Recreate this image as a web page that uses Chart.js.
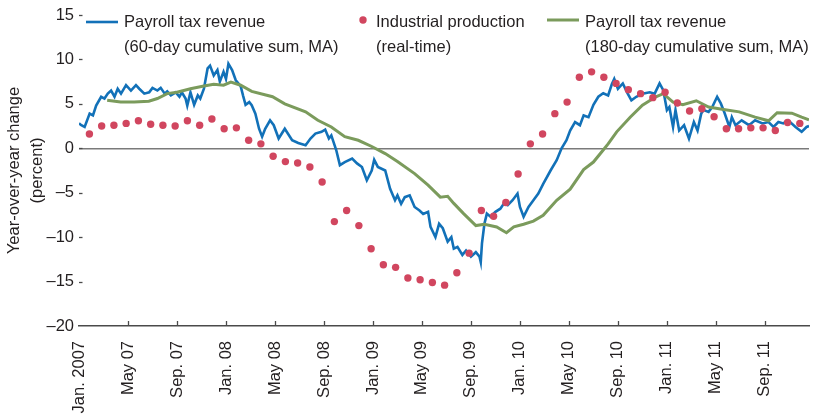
<!DOCTYPE html>
<html>
<head>
<meta charset="utf-8">
<script src="https://cdn.jsdelivr.net/npm/chart.js@4.4.1/dist/chart.umd.min.js"></script>
<style>
html,body{margin:0;padding:0;background:#fff;}
canvas{display:block;}
</style>
</head>
<body>
<canvas id="c" width="813" height="419"></canvas>
<script>
// ---------- DATA (x = months since 1 Jan 2007) ----------
const xTickMonths = [0, 4, 8, 12, 16, 20, 24, 28, 32, 36, 40, 44, 48, 52, 56];
const xTickLabels = ["Jan. 2007", "May 07", "Sep. 07", "Jan. 08", "May 08", "Sep. 08", "Jan. 09",
  "May 09", "Sep. 09", "Jan. 10", "May 10", "Sep. 10", "Jan. 11", "May 11", "Sep. 11"];
const yTickValues = [-20, -15, -10, -5, 0, 5, 10, 15];

const seriesNames = [
  ["Payroll tax revenue", "(60-day cumulative sum, MA)"],
  ["Industrial production", "(real-time)"],
  ["Payroll tax revenue", "(180-day cumulative sum, MA)"]
];

// Payroll tax revenue, 60-day cumulative sum, moving average (y/y %)
const payroll60Months = [0.0,0.19,0.46,0.87,1.14,1.4,1.81,2.08,2.35,2.62,2.9,3.16,3.43,3.84,4.24,4.65,4.92,5.33,5.73,6.0,
  6.4,6.67,7.0,7.2,7.5,7.9,8.2,8.4,8.7,8.84,9.1,9.4,9.7,9.9,10.2,10.5,10.7,11.0,11.3,11.5,
  11.8,12.0,12.2,12.5,12.8,13.2,13.4,13.6,13.9,14.1,14.4,14.7,14.95,15.2,15.6,15.9,16.3,16.8,17.4,17.9,
  18.5,18.9,19.3,19.8,20.1,20.4,20.6,21.0,21.3,21.7,22.3,22.7,23.1,23.5,23.9,24.1,24.4,25.0,25.4,25.8,
  26.0,26.3,26.6,27.0,27.4,27.8,28.1,28.5,28.7,29.1,29.4,29.7,30.1,30.4,30.6,30.9,31.3,31.6,32.0,32.4,
  32.7,32.8,32.9,33.1,33.3,33.6,34.0,34.4,34.7,35.0,35.4,35.8,36.0,36.3,36.7,37.1,37.5,37.9,38.5,39.0,
  39.4,39.8,40.1,40.5,40.9,41.2,41.6,42.0,42.4,42.8,43.2,43.5,43.7,44.0,44.4,44.8,45.1,45.5,46.0,46.6,
  47.0,47.4,47.7,48.0,48.2,48.5,48.7,49.0,49.4,49.8,50.2,50.5,50.8,51.0,51.4,51.7,52.1,52.4,52.7,53.1,
  53.3,53.6,54.1,54.7,55.2,55.8,56.3,56.7,57.1,57.5,57.9,58.5,59.0,59.4,59.6];
const payroll60Values = [2.8,2.6,2.4,3.9,3.7,4.8,5.8,5.6,6.15,6.5,5.8,6.7,6.15,7.1,6.5,7.1,6.7,6.15,6.3,6.8,
  6.5,6.8,6.15,6.4,5.95,6.3,5.8,6.3,5.6,4.8,6.3,4.9,5.95,5.6,6.7,9.0,9.3,8.2,8.8,7.5,
  8.6,7.8,9.5,8.8,7.65,7.0,5.9,4.9,5.2,4.85,3.9,2.2,1.3,2.2,3.15,2.6,1.1,2.2,0.9,0.6,
  0.35,1.1,1.65,1.85,2.1,1.1,1.45,-0.2,-1.9,-1.55,-1.15,-1.7,-2.1,-3.6,-2.5,-1.3,-2.1,-2.5,-4.55,-5.85,
  -5.3,-6.25,-5.5,-5.3,-6.6,-7.0,-7.4,-7.15,-8.85,-10.0,-8.5,-9.0,-10.5,-10.0,-11.3,-11.1,-12.0,-11.5,-12.2,-11.7,
  -12.2,-12.8,-10.7,-8.5,-7.35,-7.7,-7.15,-6.8,-6.2,-6.4,-5.85,-5.1,-6.6,-7.7,-6.6,-5.85,-5.1,-4.0,-2.5,-1.35,
  0.0,0.9,2.0,2.95,2.6,3.7,3.5,4.9,5.8,6.2,5.95,7.2,7.8,6.7,7.3,6.15,5.4,5.8,6.15,6.3,
  6.15,7.3,6.55,4.3,4.65,2.4,4.3,2.0,2.6,1.1,2.95,2.0,3.9,4.3,4.1,4.65,5.8,5.05,4.0,2.4,
  3.5,2.6,3.15,2.6,3.15,2.8,2.95,2.4,2.95,2.8,3.15,2.4,1.85,2.4,2.5];

// Industrial production (real-time), monthly y/y %, Jan 2007 - Nov 2011
const ipStartMonth = 0;
const ipValues = [1.6,2.5,2.6,2.8,3.1,2.7,2.6,2.5,3.1,2.6,3.3,2.2,
  2.3,0.9,0.5,-0.9,-1.5,-1.65,-2.1,-3.8,-8.25,-7.0,-8.7,-11.3,
  -13.1,-13.4,-14.6,-14.8,-15.1,-15.4,-14.0,-11.8,-7.0,-7.65,-6.1,-2.9,
  0.5,1.6,3.9,5.2,8.0,8.6,8.0,7.3,6.6,6.15,5.7,6.3,
  5.1,4.2,4.45,3.55,2.2,2.2,2.3,2.3,2.0,2.9,2.8];

// Payroll tax revenue, 180-day cumulative sum, moving average (y/y %)
const payroll180Months = [2.3,3.4,4.5,5.7,6.4,7.2,8.0,9.1,10.2,11.0,11.8,12.4,13.2,14.1,15.8,16.8,18.5,19.5,20.6,21.7,
  22.8,23.9,25.0,26.0,27.4,28.5,29.5,30.1,30.6,31.4,32.4,33.1,34.1,34.9,35.5,36.3,37.1,37.9,39.0,40.1,
  41.2,42.0,42.8,43.2,43.9,45.0,46.0,47.1,47.7,48.5,49.3,50.4,51.4,52.5,53.9,55.2,56.3,57.0,58.2,59.0,59.6];
const payroll180Values = [5.4,5.2,5.2,5.3,5.6,6.15,6.3,6.7,7.0,7.2,7.1,7.45,7.1,6.4,5.8,5.0,4.1,3.15,2.4,1.3,
  0.9,0.2,-0.6,-1.5,-2.85,-4.15,-5.5,-5.4,-6.2,-7.35,-8.7,-8.55,-8.85,-9.5,-8.85,-8.55,-8.2,-7.55,-5.85,-4.6,
  -2.4,-1.55,-0.2,0.5,1.85,3.5,4.85,5.8,6.15,5.2,4.9,5.35,4.65,4.4,4.1,3.5,3.1,4.0,3.95,3.5,3.2];

// ---------- STYLE ----------
const FONT = '"Liberation Sans",Arial,sans-serif';
const FS = 16.5;
const TEXT = '#231f20';
const BLUE = '#1271b8';
const GREEN = '#7b9b5c';
const RED = '#d1465f';
const IP_LAG = 0.85; // release lag used to place monthly points

const pairs = (xs, ys) => xs.map((x, i) => ({x, y: ys[i]}));
const ipPoints = ipValues.map((v, i) => ({x: ipStartMonth + i + IP_LAG, y: v}));

const fmtNum = v => v < 0 ? '\u2013' + Math.abs(v) : String(v);

const tickMarks = {
  id: 'tickMarks',
  afterDatasetsDraw(chart) {
    const {ctx, chartArea: {left, bottom}, scales: {x, y}} = chart;
    ctx.save();
    ctx.strokeStyle = '#4a4a4a';
    ctx.lineWidth = 1.3;
    x.ticks.forEach(t => {
      if (t.value === xTickMonths[0]) return;
      const px = Math.round(x.getPixelForValue(t.value)) + 0.5;
      ctx.beginPath(); ctx.moveTo(px, bottom); ctx.lineTo(px, bottom - 5); ctx.stroke();
    });
    y.ticks.forEach(t => {
      if (t.value === yTickValues[0]) return;
      const py = Math.round(y.getPixelForValue(t.value)) + 0.5;
      ctx.beginPath(); ctx.moveTo(left, py); ctx.lineTo(left + 3.5, py); ctx.stroke();
    });
    ctx.restore();
  }
};

const legendBox = {
  id: 'legendBox',
  afterDraw(chart) {
    const ctx = chart.ctx;
    ctx.save();
    ctx.font = FS + 'px ' + FONT;
    ctx.fillStyle = TEXT;
    ctx.textBaseline = 'alphabetic';
    ctx.textAlign = 'left';
    const l1 = 27, l2 = 51.5;
    // entry 1
    ctx.strokeStyle = BLUE; ctx.lineWidth = 2.6;
    ctx.beginPath(); ctx.moveTo(86, 22); ctx.lineTo(118, 22); ctx.stroke();
    ctx.fillText(seriesNames[0][0], 124, l1);
    ctx.fillText(seriesNames[0][1], 124, l2);
    // entry 2
    ctx.fillStyle = RED;
    ctx.beginPath(); ctx.arc(363, 20, 3.7, 0, Math.PI * 2); ctx.fill();
    ctx.fillStyle = TEXT;
    ctx.fillText(seriesNames[1][0], 376, l1);
    ctx.fillText(seriesNames[1][1], 376, l2);
    // entry 3
    ctx.strokeStyle = GREEN; ctx.lineWidth = 3;
    ctx.beginPath(); ctx.moveTo(547, 20); ctx.lineTo(579, 20); ctx.stroke();
    ctx.fillText(seriesNames[2][0], 585, l1);
    ctx.fillText(seriesNames[2][1], 585, l2);
    ctx.restore();
  }
};

new Chart(document.getElementById('c'), {
  type: 'scatter',
  data: {
    datasets: [
      {
        label: seriesNames[1].join(' '),
        data: ipPoints,
        showLine: false,
        pointRadius: 3.7,
        pointBackgroundColor: RED,
        pointBorderWidth: 0,
        order: 0
      },
      {
        label: seriesNames[2].join(' '),
        data: pairs(payroll180Months, payroll180Values),
        showLine: true,
        borderColor: GREEN,
        borderWidth: 3,
        pointRadius: 0,
        tension: 0,
        order: 1
      },
      {
        label: seriesNames[0].join(' '),
        data: pairs(payroll60Months, payroll60Values),
        showLine: true,
        borderColor: BLUE,
        borderWidth: 2.6,
        pointRadius: 0,
        tension: 0,
        order: 2
      }
    ]
  },
  options: {
    responsive: false,
    animation: false,
    devicePixelRatio: 1,
    layout: {padding: {top: 15, right: 0, bottom: 0, left: 0}},
    plugins: {legend: {display: false}, tooltip: {enabled: false}},
    scales: {
      x: {
        type: 'linear',
        min: 0,
        max: 59.6,
        afterBuildTicks: s => { s.ticks = xTickMonths.map(v => ({value: v})); },
        afterFit: s => { s.height = 93; s.paddingLeft = 0; s.paddingRight = 0; },
        grid: {display: false, drawTicks: false},
        border: {display: true, color: '#4a4a4a', width: 1.5},
        ticks: {
          autoSkip: false,
          minRotation: 90,
          maxRotation: 90,
          padding: 15,
          color: TEXT,
          font: {family: FONT, size: FS},
          callback: v => xTickLabels[xTickMonths.indexOf(v)]
        }
      },
      y: {
        min: -20,
        max: 15,
        afterBuildTicks: s => { s.ticks = yTickValues.map(v => ({value: v})); },
        afterFit: s => { s.width = 79; s.paddingTop = 0; s.paddingBottom = 0; },
        grid: {
          drawTicks: false,
          color: c => (c.tick && c.tick.value === 0) ? '#7a7a7a' : 'rgba(0,0,0,0)',
          lineWidth: 1.5
        },
        border: {display: false},
        ticks: {
          padding: 5,
          color: TEXT,
          font: {family: FONT, size: FS},
          callback: v => fmtNum(v)
        },
        title: {
          display: true,
          text: ['Year-over-year change', '(percent)'],
          color: TEXT,
          font: {family: FONT, size: FS, lineHeight: 1.4},
          padding: {top: 2.5, bottom: 0}
        }
      }
    }
  },
  plugins: [tickMarks, legendBox]
});
</script>
</body>
</html>
